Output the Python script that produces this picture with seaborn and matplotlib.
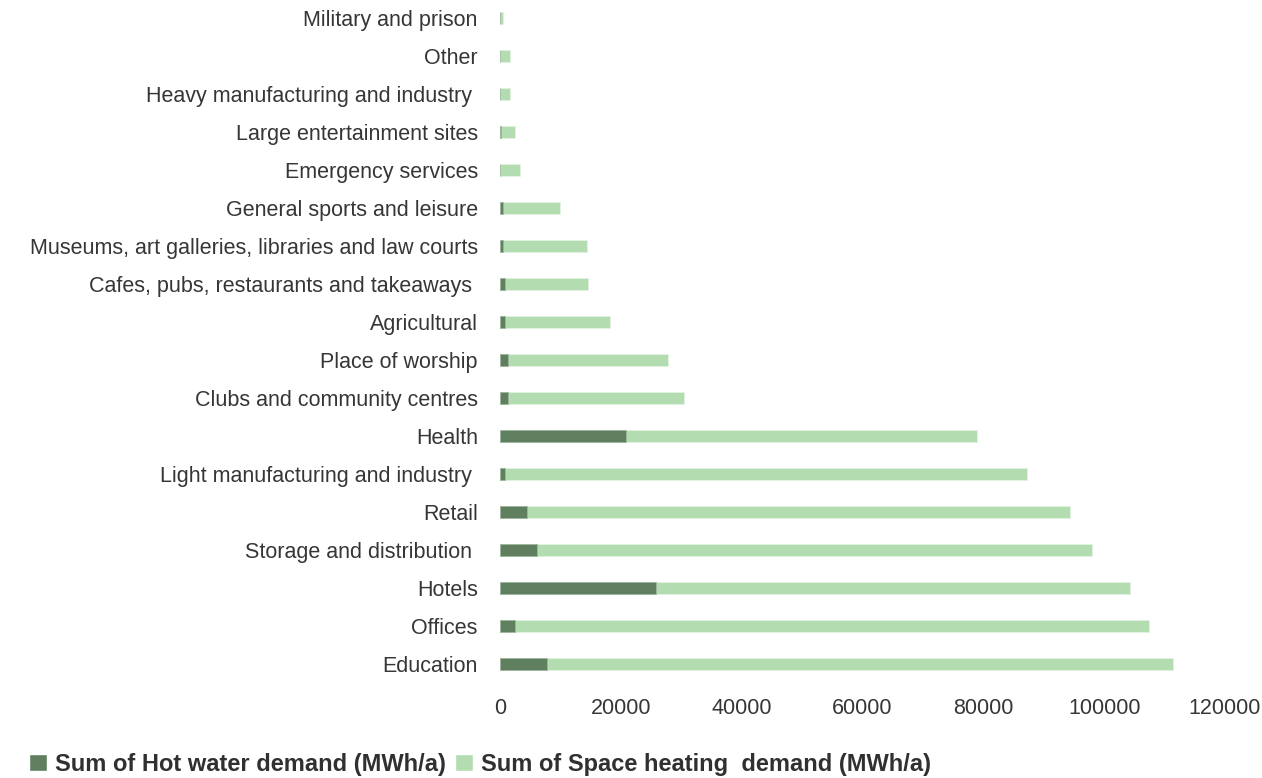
import matplotlib
matplotlib.use("Agg")
import matplotlib.pyplot as plt
from matplotlib.patches import Patch
import seaborn as sns
import pandas as pd

categories = [
    "Military and prison",
    "Other",
    "Heavy manufacturing and industry ",
    "Large entertainment sites",
    "Emergency services",
    "General sports and leisure",
    "Museums, art galleries, libraries and law courts",
    "Cafes, pubs, restaurants and takeaways ",
    "Agricultural",
    "Place of worship",
    "Clubs and community centres",
    "Health",
    "Light manufacturing and industry ",
    "Retail",
    "Storage and distribution ",
    "Hotels",
    "Offices",
    "Education",
]
hot_water = [0, 0, 0, 200, 0, 550, 550, 830, 830, 1380, 1380,
             20850, 830, 4410, 6070, 25770, 2480, 7720]
space_heating = [550, 1700, 1650, 2300, 3300, 9350, 13800, 13730, 17320,
                 26370, 29120, 58100, 86390, 89930, 91860, 78510, 104990, 103620]
xticks = [0, 20000, 40000, 60000, 80000, 100000, 120000]

hot_label = "Sum of Hot water demand (MWh/a)"
space_label = "Sum of Space heating  demand (MWh/a)"

df = pd.DataFrame({
    "category": categories,
    "hot": hot_water,
    "total": [h + s for h, s in zip(hot_water, space_heating)],
})

sns.set_theme(style="white")
plt.rcParams["font.family"] = ["Liberation Sans", "DejaVu Sans"]

W, H = 1262, 778
fig = plt.figure(figsize=(W / 100, H / 100), dpi=100)
left, right, top, bottom = 500, 1225, 5, 684
ax = fig.add_axes([left / W, 1 - bottom / H, (right - left) / W, (bottom - top) / H])

dark = "#5f7f5f"
light = "#b3ddb0"

sns.barplot(data=df, y="category", x="total", orient="h", color=light,
            width=0.3, saturation=1, edgecolor="#e3f2e2", linewidth=0.6, ax=ax)
sns.barplot(data=df, y="category", x="hot", orient="h", color=dark,
            width=0.3, saturation=1, edgecolor="#9fb79f", linewidth=0.6, ax=ax)

ax.set_xlim(0, 120000)
ax.set_xticks(xticks)
ax.set_xticklabels([str(t) for t in xticks])
ax.set_ylim(17 + (bottom - 664) / 38, -(18 - top) / 38)
ax.set_xlabel("")
ax.set_ylabel("")
for s in ax.spines.values():
    s.set_visible(False)
ax.tick_params(axis="y", length=0, pad=16, labelsize=15.5, labelcolor="#363636")
ax.tick_params(axis="x", length=0, pad=10, labelsize=15.5, labelcolor="#363636")
ax.grid(False)

handles = [Patch(facecolor=dark, label=hot_label), Patch(facecolor=light, label=space_label)]
leg = fig.legend(handles=handles, loc="center left", bbox_to_anchor=(29 / W, 1 - 764 / H),
                 ncol=2, frameon=False, handlelength=0.75, handleheight=0.75,
                 handletextpad=0.35, columnspacing=0.4, borderpad=0, borderaxespad=0,
                 prop={"family": "Liberation Sans", "weight": "bold", "size": 17})
for t in leg.get_texts():
    t.set_color("#303030")

fig.savefig("out.png", dpi=100)
